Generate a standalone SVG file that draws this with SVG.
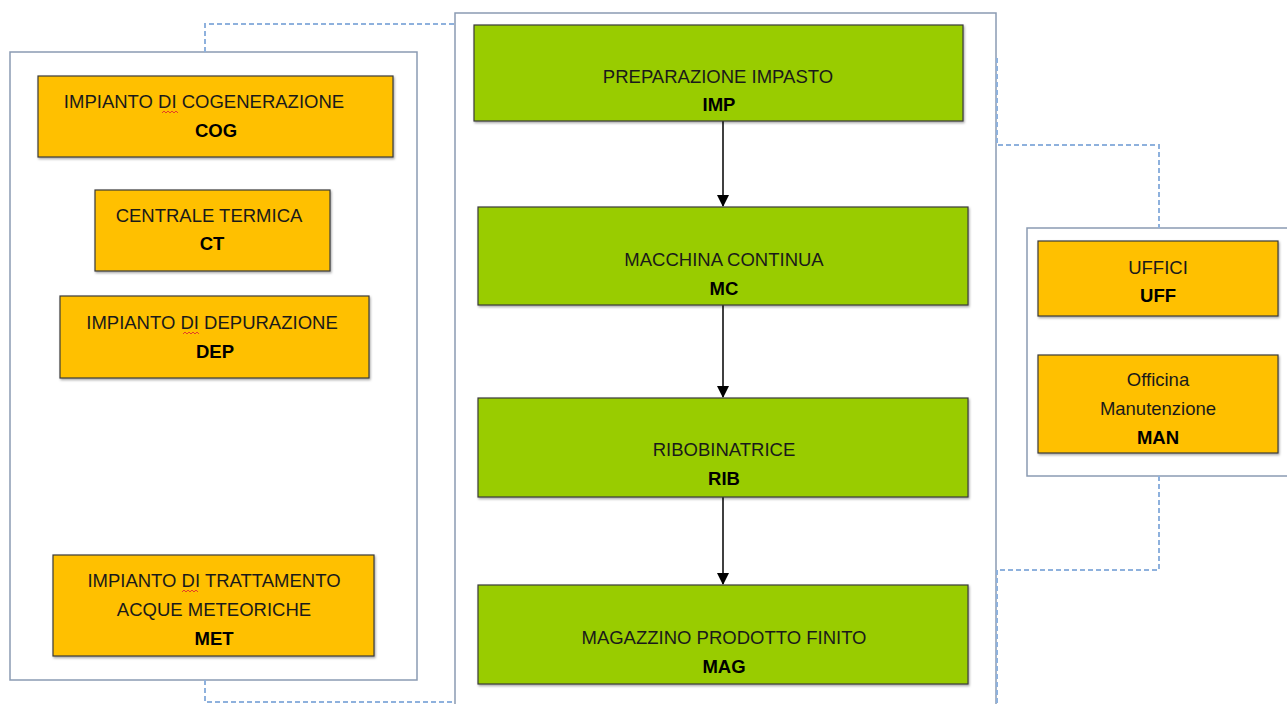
<svg xmlns="http://www.w3.org/2000/svg" width="1287" height="704" viewBox="0 0 1287 704">
<defs>
<marker id="arr" markerWidth="12" markerHeight="12" refX="11" refY="6" orient="auto" markerUnits="userSpaceOnUse">
<path d="M0,0 L12,6 L0,12 z" fill="#000"/>
</marker>
<filter id="sh" x="-5%" y="-5%" width="110%" height="115%">
<feDropShadow dx="1" dy="1.5" stdDeviation="1" flood-color="#000" flood-opacity="0.35"/>
</filter>
</defs>
<style>
.cont{fill:#fff;stroke:#8a9bb3;stroke-width:1.5}
.or{fill:#FFC000;stroke:#3a3a3a;stroke-width:1.2;filter:url(#sh)}
.gr{fill:#99CC00;stroke:#3a3a3a;stroke-width:1.2;filter:url(#sh)}
text{font-family:"Liberation Sans",Arial,sans-serif;font-size:18.5px;fill:#1a1a1a;text-anchor:middle}
.b{font-weight:bold;fill:#000}
.dash{fill:none;stroke:#8eb1dd;stroke-width:2;stroke-dasharray:5,3}
.flow{fill:none;stroke:#000;stroke-width:1.5}
.sq{fill:none;stroke:#e0302a;stroke-width:0.9}
</style>
<rect width="1287" height="704" fill="#fff"/>

<g id="containers">
<rect id="left-area" class="cont" x="10" y="52" width="407" height="628"/>
<rect id="mid-area" class="cont" x="455" y="13" width="541" height="700"/>
<rect id="right-area" class="cont" x="1027" y="228" width="270" height="248"/>
</g>

<g id="connectors">
<path class="dash" d="M205,52 V24 H455"/>
<path class="dash" d="M205,680 V702 H455"/>
<path class="dash" d="M997,58 V145 H1159 V228"/>
<path class="dash" d="M1159,476 V570 H997 V704"/>
<path class="flow" d="M723,121 V206" marker-end="url(#arr)"/>
<path class="flow" d="M723,305 V397" marker-end="url(#arr)"/>
<path class="flow" d="M723,497 V584" marker-end="url(#arr)"/>
</g>

<g id="COG">
<rect class="or" x="38" y="76" width="355" height="81"/>
<text x="204" y="108">IMPIANTO DI COGENERAZIONE</text>
<text class="b" x="216" y="137">COG</text>
<path class="sq" d="M162,113 l2,-2 l2,2 l2,-2 l2,2 l2,-2 l2,2 l2,-2 l2,2"/>
</g>
<g id="CT">
<rect class="or" x="95" y="190" width="235" height="81"/>
<text x="209" y="222">CENTRALE TERMICA</text>
<text class="b" x="212" y="250">CT</text>
</g>
<g id="DEP">
<rect class="or" x="60" y="296" width="309" height="82"/>
<text x="212" y="329">IMPIANTO DI DEPURAZIONE</text>
<text class="b" x="215" y="358">DEP</text>
<path class="sq" d="M183,334 l2,-2 l2,2 l2,-2 l2,2 l2,-2 l2,2 l2,-2 l2,2"/>
</g>
<g id="MET">
<rect class="or" x="53" y="555" width="321" height="101"/>
<text x="214" y="587">IMPIANTO DI TRATTAMENTO</text>
<text x="214" y="616">ACQUE METEORICHE</text>
<text class="b" x="214" y="645">MET</text>
<path class="sq" d="M182,592 l2,-2 l2,2 l2,-2 l2,2 l2,-2 l2,2 l2,-2 l2,2"/>
</g>

<g id="IMP">
<rect class="gr" x="474" y="25" width="489" height="96"/>
<text x="718" y="83">PREPARAZIONE IMPASTO</text>
<text class="b" x="719" y="111">IMP</text>
</g>
<g id="MC">
<rect class="gr" x="478" y="207" width="490" height="98"/>
<text x="724" y="266">MACCHINA CONTINUA</text>
<text class="b" x="724" y="295">MC</text>
</g>
<g id="RIB">
<rect class="gr" x="478" y="398" width="490" height="99"/>
<text x="724" y="456">RIBOBINATRICE</text>
<text class="b" x="724" y="485">RIB</text>
</g>
<g id="MAG">
<rect class="gr" x="478" y="585" width="490" height="99"/>
<text x="724" y="644">MAGAZZINO PRODOTTO FINITO</text>
<text class="b" x="724" y="673">MAG</text>
</g>

<g id="UFF">
<rect class="or" x="1038" y="241" width="240" height="75"/>
<text x="1158" y="274">UFFICI</text>
<text class="b" x="1158" y="302">UFF</text>
</g>
<g id="MAN">
<rect class="or" x="1038" y="355" width="240" height="98"/>
<text x="1158" y="386">Officina</text>
<text x="1158" y="415">Manutenzione</text>
<text class="b" x="1158" y="444">MAN</text>
</g>
</svg>
